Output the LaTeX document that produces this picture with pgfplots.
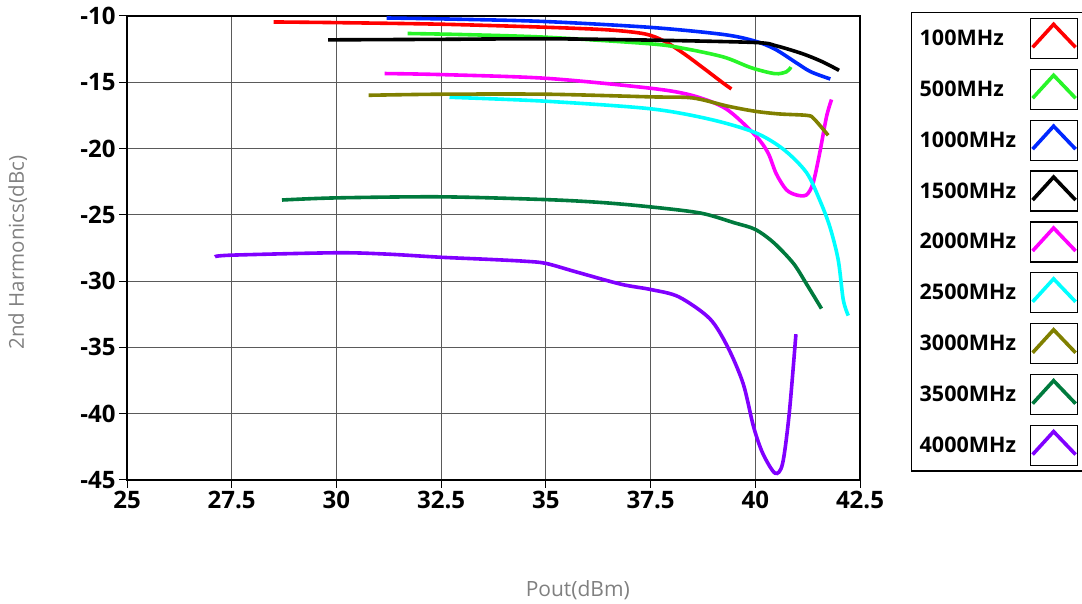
\documentclass[border=0pt]{standalone}
\usepackage{fontspec}
\setmainfont{Open Sans}
\usepackage{pgfplots}
\pgfplotsset{compat=1.18}
\definecolor{cRed}{RGB}{255,0,0}
\definecolor{cGreen}{RGB}{40,245,40}
\definecolor{cBlue}{RGB}{0,40,255}
\definecolor{cMag}{RGB}{255,0,255}
\definecolor{cCyan}{RGB}{0,255,255}
\definecolor{cOlive}{RGB}{128,128,0}
\definecolor{cDkGreen}{RGB}{0,122,61}
\definecolor{cPurple}{RGB}{128,0,255}
\definecolor{cGrid}{RGB}{90,90,90}
\definecolor{cLabel}{RGB}{128,128,128}
\begin{document}
\begin{tikzpicture}[x=1pt,y=1pt]
\useasboundingbox (0,0) rectangle (1082,604);
\begin{axis}[
  at={(127pt,124pt)}, anchor=south west,
  scale only axis, width=733pt, height=464pt,
  xmin=25, xmax=42.5, ymin=-45, ymax=-10,
  xtick={25,27.5,30,32.5,35,37.5,40,42.5},
  xticklabels={25,27.5,30,32.5,35,37.5,40,42.5},
  ytick={-45,-40,-35,-30,-25,-20,-15,-10},
  yticklabels={-45,-40,-35,-30,-25,-20,-15,-10},
  ticklabel style={font=\fontsize{24}{28}\selectfont\bfseries},
  grid=major, major grid style={cGrid, line width=1pt},
  axis line style={line width=1.5pt},
  tick align=outside, tick pos=left, major tick length=8pt,
  tick style={black, line width=1pt},
  xlabel={Pout(dBm)}, ylabel={2nd Harmonics(dBc)},
  xlabel style={at={(axis description cs:0.615,-0.237)}, anchor=center, font=\fontsize{21}{24}\selectfont, text=cLabel},
  ylabel style={at={(axis description cs:-0.149,0.49)}, anchor=center, font=\fontsize{20.5}{24}\selectfont, text=cLabel},
  legend plot pos=right,
  legend cell align=left,
  legend image code/.code={
    \draw[black, line width=1.2pt, solid] (0pt,-20pt) rectangle (47pt,20pt);
    \draw[#1, line join=miter] (2pt,-9pt) -- (23pt,14pt) -- (45pt,-9pt);
  },
  legend style={at={(axis description cs:1.0695,1.0086)}, anchor=north west,
    draw=black, line width=1.5pt, fill=white,
    font=\fontsize{21.5}{24}\selectfont\bfseries,
    inner xsep=6pt, inner ysep=5pt, row sep=9.7pt, column sep=12pt},
  every axis plot/.append style={line width=3.6pt, smooth, tension=0.5},
]
\addplot[cRed] coordinates {(28.5,-10.45) (30,-10.5) (32.5,-10.62) (35,-10.85) (36.5,-11.05) (37.36,-11.35) (37.83,-11.9) (38.3,-12.85) (38.77,-13.95) (39.25,-15.1) (39.43,-15.5)};
\addlegendentry{100MHz}
\addplot[cGreen] coordinates {(31.7,-11.32) (33,-11.4) (35,-11.6) (37.5,-12.1) (38.3,-12.45) (39.25,-13.1) (39.9,-13.9) (40.47,-14.35) (40.75,-14.2) (40.85,-13.85)};
\addlegendentry{500MHz}
\addplot[cBlue] coordinates {(31.2,-10.15) (33,-10.25) (35,-10.42) (37.5,-10.86) (39.25,-11.4) (40,-11.9) (40.47,-12.5) (40.94,-13.45) (41.32,-14.2) (41.79,-14.75)};
\addlegendentry{1000MHz}
\addplot[black] coordinates {(29.8,-11.8) (32.5,-11.76) (35,-11.72) (37.5,-11.82) (40,-12.0) (40.5,-12.25) (41.13,-12.85) (41.6,-13.45) (42,-14.1)};
\addlegendentry{1500MHz}
\addplot[cMag] coordinates {(31.15,-14.34) (32.5,-14.42) (35,-14.7) (37.5,-15.45) (38.5,-16.0) (39.3,-17.0) (40,-19.0) (40.3,-20.3) (40.5,-21.9) (40.74,-23.1) (40.98,-23.5) (41.22,-23.5) (41.38,-22.6) (41.54,-20.3) (41.7,-17.6) (41.82,-16.3)};
\addlegendentry{2000MHz}
\addplot[cCyan] coordinates {(32.7,-16.13) (35,-16.43) (37.5,-17.0) (38.93,-17.8) (40,-18.8) (40.67,-20.05) (41.22,-21.8) (41.54,-23.9) (41.78,-25.9) (41.98,-28.4) (42.1,-31.4) (42.22,-32.6)};
\addlegendentry{2500MHz}
\addplot[cOlive] coordinates {(30.77,-15.98) (32.5,-15.9) (35,-15.9) (37.5,-16.1) (38.5,-16.18) (39.34,-16.8) (40,-17.19) (40.58,-17.39) (41.24,-17.5) (41.4,-17.75) (41.74,-19.0)};
\addlegendentry{3000MHz}
\addplot[cDkGreen] coordinates {(28.7,-23.88) (30,-23.72) (32.5,-23.64) (35,-23.85) (36.33,-24.07) (37.5,-24.4) (38.7,-24.87) (39.5,-25.6) (40,-26.1) (40.44,-27.1) (40.91,-28.66) (41.22,-30.2) (41.58,-32.07)};
\addlegendentry{3500MHz}
\addplot[cPurple] coordinates {(27.1,-28.16) (27.5,-28.04) (30,-27.86) (31.2,-27.96) (32.5,-28.2) (33.65,-28.36) (34.5,-28.5) (35,-28.66) (35.72,-29.3) (36.79,-30.23) (37.5,-30.63) (38.17,-31.18) (38.91,-32.82) (39.34,-34.96) (39.71,-37.73) (39.96,-41.0) (40.18,-43.0) (40.47,-44.48) (40.65,-43.78) (40.81,-40.0) (40.97,-34.0)};
\addlegendentry{4000MHz}
\end{axis}
\end{tikzpicture}
\end{document}
